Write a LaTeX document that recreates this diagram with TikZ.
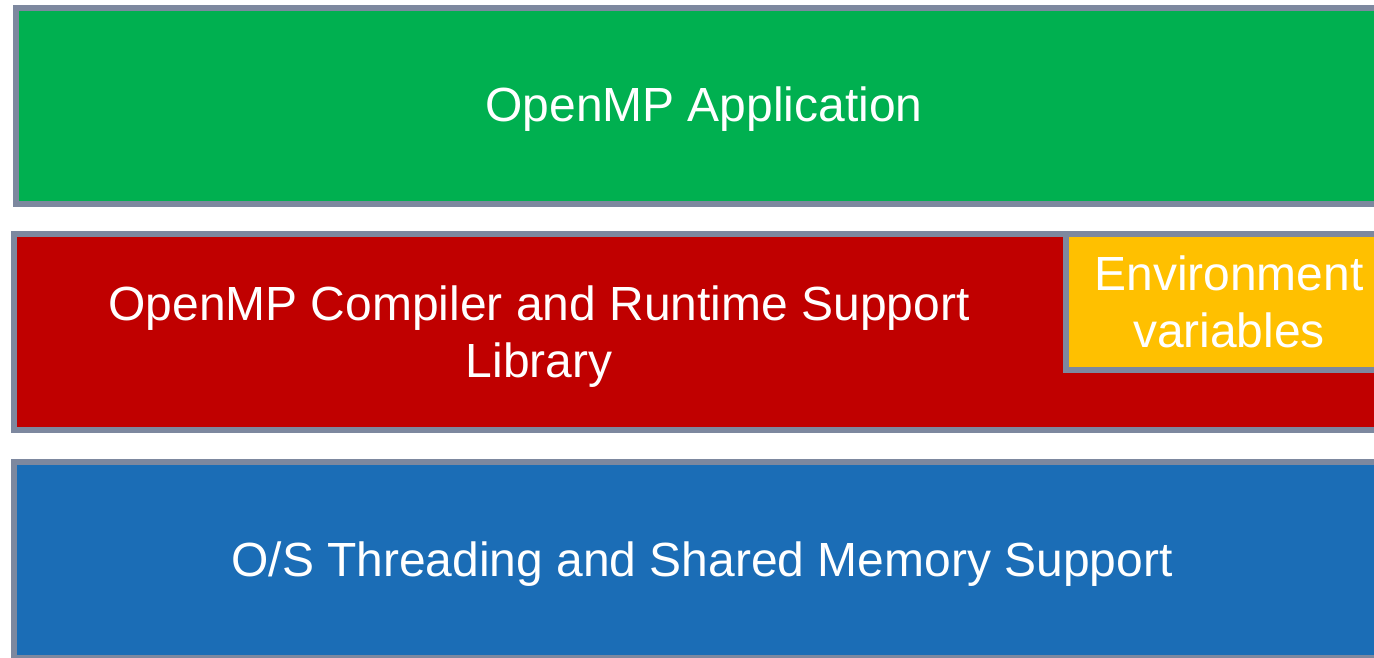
\documentclass[tikz,border=0pt]{standalone}
\usepackage{fontspec}
\setmainfont{Liberation Sans}
\definecolor{appgreen}{HTML}{00B050}
\definecolor{rtsred}{HTML}{C00000}
\definecolor{envyellow}{HTML}{FFC000}
\definecolor{osblue}{HTML}{1B6DB6}
\definecolor{edgegray}{HTML}{7D889F}
\tikzset{
  layer/.style={draw=edgegray,line width=3.4pt},
  label/.style={text=white,align=center,font=\fontsize{27.3}{32.5}\selectfont}
}
\begin{document}
\begin{tikzpicture}[x=0.02cm,y=-0.02cm]
\useasboundingbox (0,0) rectangle (1374,657);
\clip (0,0) rectangle (1374,657);
% layers, top to bottom
\draw[layer,fill=appgreen] (16,8) rectangle (1392,204);
\draw[layer,fill=rtsred] (14,234) rectangle (1392,430);
\draw[layer,fill=envyellow] (1066,234) rectangle (1392,370);
\draw[layer,fill=osblue] (14,462) rectangle (1392,658);
% texts
\node (app) [label] at (704,109) {OpenMP Application};
\node (rts) [label] at (539,337) {OpenMP Compiler and Runtime Support\\Library};
\node (env) [label] at (1229,302) {Environment\\variables};
\node (os)  [label] at (702,564) {O/S Threading and Shared Memory Support};
\end{tikzpicture}
\end{document}
